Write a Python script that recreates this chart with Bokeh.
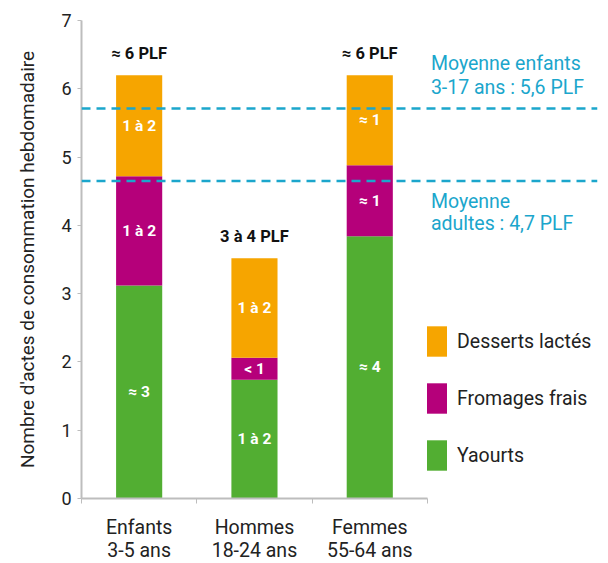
from bokeh.plotting import figure
from bokeh.models import ColumnDataSource, Range1d, FixedTicker, Span, Label, Legend, LegendItem
from bokeh.core.properties import value
from bokeh.embed import file_html
from bokeh.resources import INLINE

# ---- data ----
groups = ["Enfants\n3-5 ans", "Hommes\n18-24 ans", "Femmes\n55-64 ans"]
yaourts = [3.12, 1.74, 3.84]
fromages = [1.60, 0.32, 1.04]
desserts = [1.48, 1.46, 1.32]
yaourts_lbl = ["≈ 3", "1 à 2", "≈ 4"]
fromages_lbl = ["1 à 2", "< 1", "≈ 1"]
desserts_lbl = ["1 à 2", "1 à 2", "≈ 1"]
total_lbl = ["≈ 6 PLF", "3 à 4 PLF", "≈ 6 PLF"]
series = ["Yaourts", "Fromages frais", "Desserts lactés"]
colors = ["#52AE32", "#B5007A", "#F6A500"]
avg_enfants = 5.71
avg_adultes = 4.65
y_ticks = [0, 1, 2, 3, 4, 5, 6, 7]

FONT = "Roboto"
BLUE = "#1BA6CC"
TXT = "#222222"
FS = "19.5px"

xc = [i + 0.5 for i in range(len(groups))]
tot = [a + b + c for a, b, c in zip(yaourts, fromages, desserts)]
src = ColumnDataSource(dict(
    x=xc, Yaourts=yaourts, **{"Fromages frais": fromages, "Desserts lactés": desserts},
    y_mid=[v / 2 for v in yaourts],
    f_mid=[a + b / 2 for a, b in zip(yaourts, fromages)],
    d_mid=[a + b + c / 2 for a, b, c in zip(yaourts, fromages, desserts)],
    tot=tot, yl=yaourts_lbl, fl=fromages_lbl, dl=desserts_lbl, tl=total_lbl,
))

p = figure(frame_width=516, frame_height=478, x_range=Range1d(0, 4.475), y_range=Range1d(0, 7),
           output_backend="svg", toolbar_location=None,
           min_border_left=81, min_border_right=8, min_border_top=20, min_border_bottom=20)
p.outline_line_color = None
p.grid.visible = False

rs = p.vbar_stack(series, x="x", width=0.4, source=src, color=colors, line_color=None)

# segment labels
for ycol, tcol in [("y_mid", "yl"), ("f_mid", "fl"), ("d_mid", "dl")]:
    p.text(x="x", y=ycol, text=tcol, source=src, text_color="white", text_font=value(FONT),
           text_font_style="bold", text_font_size="15.5px", text_align="center", text_baseline="middle")
p.text(x="x", y="tot", text="tl", source=src, text_color="#111111", text_font=value(FONT),
       text_font_style="bold", text_font_size="16.5px", text_align="center", text_baseline="middle",
       y_offset=-22)

# average lines
for yv in [avg_enfants, avg_adultes]:
    p.add_layout(Span(location=yv, dimension="width", line_color=BLUE, line_width=2.5, line_dash="9 6"))

for txt, yv, off in [("Moyenne enfants", avg_enfants, 45), ("3-17 ans : 5,6 PLF", avg_enfants, 21),
                     ("Moyenne", avg_adultes, -21), ("adultes : 4,7 PLF", avg_adultes, -43)]:
    p.add_layout(Label(x=3.03, y=yv, y_offset=off, text=txt, text_color=BLUE, text_font=FONT,
                       text_font_size=FS, text_baseline="middle", text_align="left"))

# legend
legend = Legend(items=[LegendItem(label=s, renderers=[r]) for s, r in zip(series[::-1], rs[::-1])],
                location=(343, 24), glyph_width=25, glyph_height=38, label_standoff=8, spacing=19,
                padding=0, margin=0, border_line_color=None, background_fill_alpha=0,
                label_text_font=FONT, label_text_font_size=FS, label_text_color=TXT)
p.add_layout(legend)

# axes
AX = "#BDBDBD"
p.yaxis.ticker = FixedTicker(ticks=y_ticks)
p.yaxis.minor_tick_line_color = None
p.yaxis.major_tick_in = 0
p.yaxis.major_tick_out = 4
p.yaxis.axis_line_color = AX
p.yaxis.axis_line_width = 2
p.yaxis.major_tick_line_color = AX
p.yaxis.major_label_standoff = 6
p.yaxis.major_label_text_font = FONT
p.yaxis.major_label_text_font_size = "18px"
p.yaxis.major_label_text_color = TXT
p.yaxis.axis_label = "Nombre d'actes de consommation hebdomadaire"
p.yaxis.axis_label_text_font = FONT
p.yaxis.axis_label_text_font_style = "normal"
p.yaxis.axis_label_text_font_size = "19px"
p.yaxis.axis_label_text_color = TXT
p.yaxis.axis_label_standoff = 19

p.xaxis.ticker = FixedTicker(ticks=xc, minor_ticks=[0, 1, 2, 3])
p.xaxis.bounds = (0, 3)
p.xaxis.major_label_overrides = {x: g for x, g in zip(xc, groups)}
p.xaxis.major_tick_in = 0
p.xaxis.major_tick_out = 0
p.xaxis.minor_tick_in = 0
p.xaxis.minor_tick_out = 5
p.xaxis.minor_tick_line_color = AX
p.xaxis.axis_line_color = AX
p.xaxis.axis_line_width = 2
p.xaxis.major_label_standoff = 12
p.xaxis.major_label_text_font = FONT
p.xaxis.major_label_text_font_size = FS
p.xaxis.major_label_text_color = TXT
p.xaxis.major_label_text_line_height = 1.0

open("out.html", "w").write(file_html(p, INLINE))
